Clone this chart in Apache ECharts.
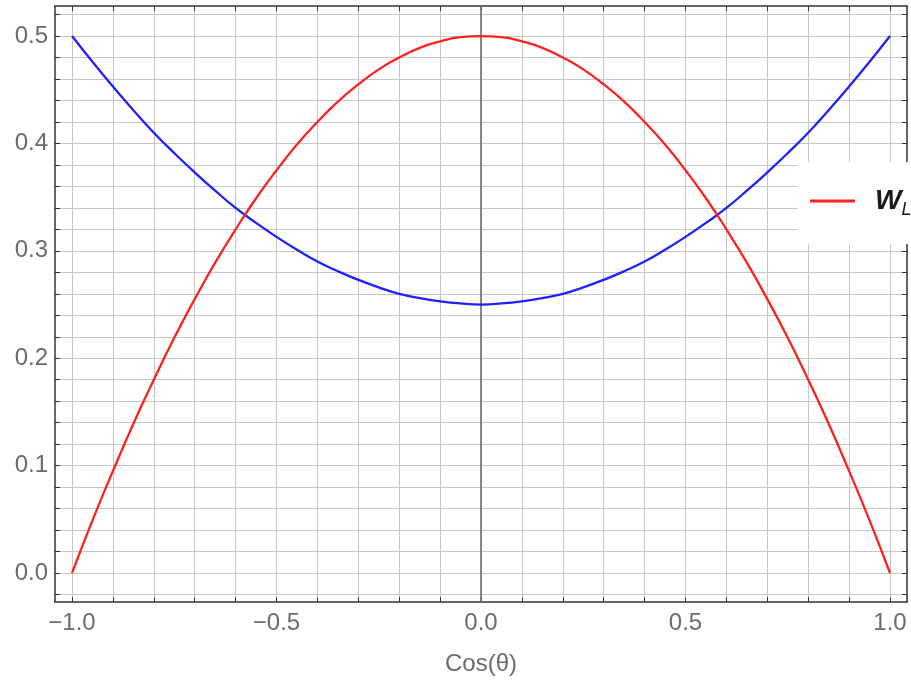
<!DOCTYPE html>
<html>
<head>
<meta charset="utf-8">
<script src="https://cdn.jsdelivr.net/npm/echarts@6/dist/echarts.min.js"></script>
<style>
  html, body { margin: 0; padding: 0; background: #fff; }
  #chart { width: 911px; height: 682px; }
</style>
</head>
<body>
<div id="chart"></div>
<script>
// Sample points along cos(theta)
const cosTheta = [-1, -0.95, -0.9, -0.85, -0.8, -0.75, -0.7, -0.65, -0.6, -0.55, -0.5,
  -0.45, -0.4, -0.35, -0.3, -0.25, -0.2, -0.15, -0.1, -0.05, 0,
  0.05, 0.1, 0.15, 0.2, 0.25, 0.3, 0.35, 0.4, 0.45, 0.5,
  0.55, 0.6, 0.65, 0.7, 0.75, 0.8, 0.85, 0.9, 0.95, 1];

// Longitudinal weight W_L (red)
const wL = [0, 0.049, 0.095, 0.139, 0.18, 0.219, 0.255, 0.289, 0.32, 0.349, 0.375,
  0.399, 0.42, 0.439, 0.455, 0.469, 0.48, 0.489, 0.495, 0.499, 0.5,
  0.499, 0.495, 0.489, 0.48, 0.469, 0.455, 0.439, 0.42, 0.399, 0.375,
  0.349, 0.32, 0.289, 0.255, 0.219, 0.18, 0.139, 0.095, 0.049, 0];

// Transverse weight W_T (blue)
const wT = [0.5, 0.476, 0.453, 0.431, 0.41, 0.391, 0.373, 0.356, 0.34, 0.326, 0.313,
  0.301, 0.29, 0.281, 0.273, 0.266, 0.26, 0.256, 0.253, 0.251, 0.25,
  0.251, 0.253, 0.256, 0.26, 0.266, 0.273, 0.281, 0.29, 0.301, 0.313,
  0.326, 0.34, 0.356, 0.373, 0.391, 0.41, 0.431, 0.453, 0.476, 0.5];

// Labelled ticks
const xTickLabels = [-1.0, -0.5, 0.0, 0.5, 1.0];
const yTickLabels = [0.0, 0.1, 0.2, 0.3, 0.4, 0.5];

// Grid / tick positions (every 0.1 along x, every 0.02 along y)
const xGridValues = [-1.0, -0.9, -0.8, -0.7, -0.6, -0.5, -0.4, -0.3, -0.2, -0.1, 0,
  0.1, 0.2, 0.3, 0.4, 0.5, 0.6, 0.7, 0.8, 0.9, 1.0];
const yGridValues = [-0.02, 0, 0.02, 0.04, 0.06, 0.08, 0.1, 0.12, 0.14, 0.16, 0.18, 0.2,
  0.22, 0.24, 0.26, 0.28, 0.3, 0.32, 0.34, 0.36, 0.38, 0.4,
  0.42, 0.44, 0.46, 0.48, 0.5, 0.52];

const X_MIN = -1.0416, X_MAX = 1.0416;
const Y_MIN = -0.027, Y_MAX = 0.528;

const FRAME = '#333';
const GRID = '#c6c6c6';
const LABEL = '#6b6b6b';
const FONT = '"Liberation Sans", Arial, sans-serif';

const pairs = (ys) => cosTheta.map((x, i) => [x, ys[i]]);
const fmtX = v => (v < -1e-9 ? '\u2212' + (-v).toFixed(1) : Math.abs(v).toFixed(1));

const xBase = {
  type: 'value', min: X_MIN, max: X_MAX,
  axisLine: { show: true, onZero: false, lineStyle: { color: FRAME, width: 1.5 } },
  axisTick: { show: true, inside: true, length: 5, customValues: xGridValues, lineStyle: { color: FRAME } },
  splitLine: { show: false }
};
const yBase = {
  type: 'value', min: Y_MIN, max: Y_MAX,
  axisLine: { show: true, onZero: false, lineStyle: { color: FRAME, width: 1.5 } },
  axisTick: { show: true, inside: true, length: 5, customValues: yGridValues, lineStyle: { color: FRAME } },
  splitLine: { show: false }
};

const option = {
  backgroundColor: '#fff',
  animation: false,
  grid: { left: 55, right: 4, top: 6, bottom: 80, containLabel: false },
  xAxis: [
    Object.assign({}, xBase, {
      position: 'bottom',
      name: 'Cos(θ)', nameLocation: 'middle', nameGap: 50,
      nameTextStyle: { color: LABEL, fontSize: 24, fontFamily: FONT },
      splitLine: { show: true, lineStyle: { color: GRID, width: 1 } },
      axisLabel: {
        color: LABEL, fontSize: 24, fontFamily: FONT, margin: 9,
        customValues: xTickLabels, formatter: fmtX
      }
    }),
    Object.assign({}, xBase, { position: 'top', axisLabel: { show: false } })
  ],
  yAxis: [
    Object.assign({}, yBase, {
      position: 'left',
      splitLine: { show: true, lineStyle: { color: GRID, width: 1 } },
      axisLabel: {
        color: LABEL, fontSize: 24, fontFamily: FONT, margin: 7,
        customValues: yTickLabels, formatter: v => v.toFixed(1)
      }
    }),
    Object.assign({}, yBase, { position: 'right', axisLabel: { show: false } })
  ],
  legend: {
    data: [{ name: 'W_L', icon: 'rect' }],
    left: 797, top: 162,
    orient: 'vertical',
    backgroundColor: '#fff',
    padding: [25, 30, 25, 13],
    itemWidth: 45, itemHeight: 3,
    formatter: () => '{w|W}{l|L}',
    textStyle: {
      rich: {
        w: { fontSize: 28, fontStyle: 'italic', fontWeight: 'bold', fontFamily: FONT, color: '#1a1a1a', lineHeight: 36, verticalAlign: 'middle', padding: [0, 0, 0, 15] },
        l: { fontSize: 18, fontStyle: 'italic', fontFamily: FONT, color: '#1a1a1a', lineHeight: 36, verticalAlign: 'bottom' }
      }
    }
  },
  series: [
    {
      name: 'W_T', type: 'line', data: pairs(wT),
      showSymbol: false, symbol: 'none', smooth: true,
      lineStyle: { color: '#2020ff', width: 2.3 }, itemStyle: { color: '#2020ff' },
      z: 3
    },
    {
      name: 'W_L', type: 'line', data: pairs(wL),
      showSymbol: false, symbol: 'none', smooth: true,
      lineStyle: { color: '#ff2020', width: 2.3 }, itemStyle: { color: '#ff2020' },
      z: 4,
      markLine: {
        silent: true, symbol: 'none', label: { show: false },
        lineStyle: { color: '#666', width: 1.5, type: 'solid' },
        data: [{ xAxis: 0 }], z: 2
      }
    }
  ]
};

const chart = echarts.init(document.getElementById('chart'), null, { renderer: 'canvas' });
chart.setOption(option);
</script>
</body>
</html>
